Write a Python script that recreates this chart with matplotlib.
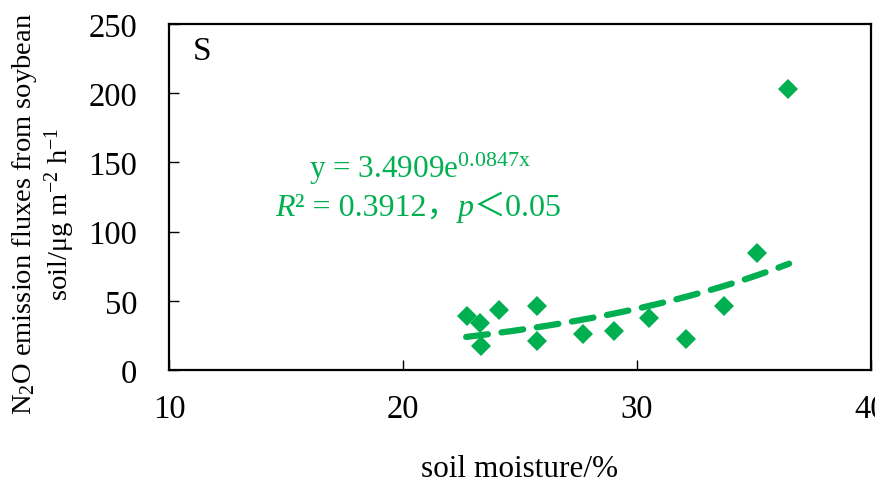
import matplotlib
matplotlib.use("Agg")
import matplotlib.pyplot as plt
import numpy as np

plt.rcParams['font.family'] = ['Liberation Serif', 'Noto Sans CJK SC']
plt.rcParams['mathtext.fontset'] = 'custom'
plt.rcParams['mathtext.rm'] = 'Liberation Serif'
plt.rcParams['mathtext.it'] = 'Liberation Serif:italic'

# soil moisture (%) and N2O flux
moisture = [22.74, 23.31, 23.35, 24.11, 25.71, 25.73, 27.71, 29.02, 30.51, 32.10, 33.71, 35.14, 36.46]
flux = [39.2, 33.7, 17.6, 43.6, 46.0, 21.2, 26.0, 28.4, 37.6, 22.4, 46.6, 84.8, 202.8]

# exponential fit shown on the chart
fit_a = 3.4909
fit_b = 0.0847
fit_range = (22.7, 36.5)

green = '#00B050'

fig = plt.figure(figsize=(8.75, 4.89), dpi=100)
ax = fig.add_axes([169 / 875, 1 - 371 / 489, (871 - 169) / 875, (371 - 25) / 489])

ax.plot(moisture, flux, linestyle='none', marker='D', markersize=10,
        color=green, markeredgewidth=0)

xs = np.linspace(fit_range[0], fit_range[1], 200)
ax.plot(xs, fit_a * np.exp(fit_b * xs), color=green, linewidth=4.5,
        linestyle=(0, (3.5, 2.2)), dash_capstyle='round')

ax.set_xlim(10, 40)
ax.set_ylim(0, 250)
ax.set_xticks([10, 20, 30, 40])
ax.set_yticks([0, 50, 100, 150, 200, 250])
ax.tick_params(axis='both', direction='in', length=7, width=1, labelsize=23.5)
ax.tick_params(axis='y', pad=23)
ax.tick_params(axis='x', pad=17)
for sp in ax.spines.values():
    sp.set_linewidth(1.6)

ax.text(0.034, 0.967, 'S', transform=ax.transAxes, fontsize=24, ha='left', va='top')

ax.text(0.357, 0.585, r'y = 3.4909e$^{\mathrm{0.0847x}}$', transform=ax.transAxes,
        fontsize=22.5, color=green, ha='center', va='center')

# second line built from pieces so the full-width signs render
t1 = ax.text(0.151, 0.47, 'R', transform=ax.transAxes, fontsize=23, color=green,
             style='italic', ha='left', va='center')
t2 = ax.annotate('\u00b2 = 0.3912\uff0c', xy=(1, 0), xycoords=t1, fontsize=23,
                 color=green, ha='left', va='bottom')
t3 = ax.annotate('p', xy=(1, 0), xycoords=t2, fontsize=23, color=green,
                 style='italic', ha='left', va='bottom')
ax.annotate('\uff1c0.05', xy=(1, 0), xycoords=t3, fontsize=23, color=green,
            ha='left', va='bottom')

fig.text(0.05, 0.562, 'N$_2$O emission fluxes from soybean\nsoil/\u03bcg m$^{-2}$ h$^{-1}$',
         rotation=90, ha='center', va='center', multialignment='center',
         fontsize=20.5, linespacing=1.15)
fig.text(0.594, 0.039, 'soil moisture/%', ha='center', va='center', fontsize=22.5)

fig.savefig('out.png', dpi=100)
